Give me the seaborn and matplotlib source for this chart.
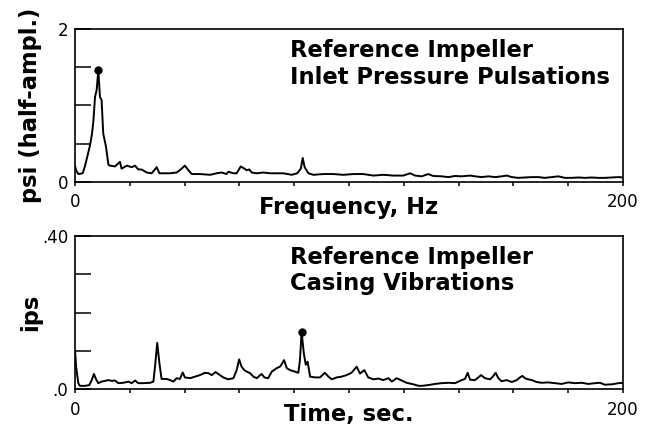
import matplotlib
matplotlib.use("Agg")
import matplotlib.pyplot as plt
import seaborn as sns
import numpy as np
import pandas as pd

# --- Inlet pressure pulsation spectrum -------------------------------------
freq_hz = [0.0, 0.4, 1.2, 2.8, 3.6, 4.5, 5.5, 6.2, 6.7, 7.3, 7.9, 8.5, 9.1, 9.7,
           10.3, 11.3, 12.2, 12.8, 14.6, 16.4, 17.0, 18.9, 20.7, 21.9, 23.1,
           24.3, 26.2, 28.0, 29.8, 30.8, 32.8, 34.7, 37.1, 38.9, 40.1, 41.4,
           42.6, 45.6, 49.3, 51.7, 53.5, 55.3, 56.0, 57.8, 59.0, 60.5, 61.4,
           62.7, 63.6, 64.5, 66.3, 68.7, 71.2, 73.6, 76.0, 79.1, 81.1, 82.4,
           83.1, 83.8, 85.2, 87.0, 90.6, 94.3, 97.9, 101.6, 105.2, 108.9,
           112.5, 116.2, 119.8, 122.3, 124.1, 126.5, 128.9, 130.7, 133.8,
           136.3, 138.7, 141.1, 144.2, 146.0, 148.4, 150.9, 153.3, 155.7,
           157.6, 159.4, 161.8, 164.2, 166.7, 169.1, 171.5, 174.0, 176.4,
           178.8, 181.3, 183.7, 186.1, 188.6, 191.0, 193.4, 195.9, 198.3, 200.0]
pressure_psi = [0.21, 0.15, 0.10, 0.11, 0.20, 0.33, 0.48, 0.63, 0.79, 1.11, 1.20,
                1.46, 1.11, 1.07, 0.63, 0.46, 0.22, 0.21, 0.20, 0.26, 0.17, 0.21,
                0.19, 0.21, 0.16, 0.16, 0.12, 0.11, 0.19, 0.11, 0.11, 0.11, 0.12,
                0.17, 0.21, 0.15, 0.10, 0.10, 0.09, 0.11, 0.12, 0.10, 0.13, 0.11,
                0.11, 0.20, 0.18, 0.15, 0.16, 0.12, 0.11, 0.12, 0.11, 0.11, 0.11,
                0.09, 0.11, 0.17, 0.31, 0.19, 0.11, 0.09, 0.10, 0.10, 0.09, 0.10,
                0.10, 0.08, 0.09, 0.08, 0.08, 0.11, 0.08, 0.07, 0.10, 0.075, 0.07,
                0.06, 0.075, 0.07, 0.08, 0.07, 0.06, 0.07, 0.06, 0.07, 0.08, 0.06,
                0.05, 0.055, 0.06, 0.06, 0.05, 0.06, 0.07, 0.05, 0.05, 0.055,
                0.05, 0.055, 0.05, 0.05, 0.055, 0.06, 0.055]

# --- Casing vibration record -----------------------------------------------
time_s = [0.0, 0.4, 1.2, 1.8, 3.6, 5.2, 6.1, 6.9, 7.7, 8.5, 9.7, 11.0, 12.2,
          13.4, 14.6, 15.8, 17.6, 19.5, 20.7, 21.9, 23.1, 24.9, 27.4, 28.6,
          29.2, 30.0, 30.8, 31.6, 33.4, 34.7, 35.9, 37.1, 38.3, 39.3, 40.1,
          42.0, 43.8, 45.6, 47.4, 48.7, 49.9, 51.3, 52.3, 54.1, 55.9, 57.8,
          59.0, 59.9, 60.8, 61.8, 62.7, 63.9, 65.1, 66.3, 68.1, 69.1, 70.5,
          71.8, 73.6, 74.8, 75.4, 76.3, 77.3, 78.5, 80.3, 81.5, 82.1, 82.7,
          83.5, 84.2, 84.9, 85.8, 87.6, 89.4, 91.2, 92.5, 93.7, 95.5, 97.3,
          99.1, 100.9, 102.8, 104.0, 105.6, 107.0, 108.9, 110.7, 112.5, 114.4,
          115.6, 117.4, 119.2, 121.0, 123.5, 125.5, 126.5, 128.9, 131.4, 133.8,
          136.3, 138.7, 141.1, 142.3, 143.3, 144.2, 146.0, 147.2, 148.2, 149.6,
          151.5, 152.7, 153.5, 154.5, 155.7, 157.5, 159.4, 161.2, 162.4, 163.3,
          164.2, 165.4, 166.7, 168.5, 170.3, 172.7, 175.2, 177.6, 180.0, 182.5,
          184.9, 187.3, 189.8, 191.6, 193.4, 195.9, 198.3, 200.0]
vibration_ips = [0.102, 0.059, 0.016, 0.009, 0.009, 0.011, 0.024, 0.040, 0.026,
                 0.016, 0.020, 0.022, 0.024, 0.022, 0.023, 0.016, 0.017, 0.020,
                 0.016, 0.023, 0.016, 0.016, 0.017, 0.020, 0.059, 0.121, 0.068,
                 0.027, 0.027, 0.024, 0.020, 0.029, 0.027, 0.044, 0.031, 0.029,
                 0.033, 0.037, 0.043, 0.042, 0.037, 0.045, 0.040, 0.031, 0.026,
                 0.029, 0.050, 0.078, 0.059, 0.050, 0.046, 0.042, 0.033, 0.029,
                 0.040, 0.031, 0.029, 0.046, 0.055, 0.059, 0.065, 0.076, 0.055,
                 0.050, 0.046, 0.043, 0.076, 0.150, 0.094, 0.064, 0.072, 0.033,
                 0.031, 0.031, 0.043, 0.033, 0.026, 0.031, 0.033, 0.037, 0.043,
                 0.059, 0.041, 0.050, 0.031, 0.026, 0.028, 0.024, 0.029, 0.020,
                 0.029, 0.023, 0.017, 0.013, 0.009, 0.009, 0.011, 0.014, 0.016,
                 0.017, 0.016, 0.024, 0.027, 0.043, 0.025, 0.024, 0.031, 0.037,
                 0.029, 0.026, 0.035, 0.043, 0.029, 0.021, 0.024, 0.019, 0.024,
                 0.031, 0.035, 0.029, 0.026, 0.024, 0.019, 0.017, 0.018, 0.016,
                 0.014, 0.018, 0.016, 0.017, 0.014, 0.016, 0.017, 0.012, 0.013,
                 0.016, 0.017]

# --- Axis annotations --------------------------------------------------------
x_ticks = list(range(0, 201, 20))
x_ticklabels = ["0"] + [""] * 9 + ["200"]
psi_ticks = [0, 0.5, 1.0, 1.5, 2.0]
psi_ticklabels = ["0", "", "", "", "2"]
ips_ticks = [0, 0.1, 0.2, 0.3, 0.4]
ips_ticklabels = [".0", "", "", "", ".40"]

sns.set_theme(style="white")
plt.rcParams["font.family"] = ["DejaVu Sans"]
plt.rcParams["axes.edgecolor"] = "black"
plt.rcParams["axes.linewidth"] = 1.2

fig = plt.figure(figsize=(6.45, 4.29), dpi=100)
fig.patch.set_facecolor("white")
ax_top = fig.add_axes([0.1163, 0.5765, 0.8496, 0.3559])
ax_bot = fig.add_axes([0.1163, 0.0925, 0.8496, 0.3580])

pressure = pd.DataFrame({"freq": freq_hz, "psi": pressure_psi})
vibration = pd.DataFrame({"time": time_s, "ips": vibration_ips})


def draw_trace(ax, df, xcol, ycol):
    sns.lineplot(data=df, x=xcol, y=ycol, ax=ax, color="black", linewidth=1.4,
                 estimator=None, sort=False)
    peak = df.loc[[df[ycol].idxmax()]]
    sns.scatterplot(data=peak, x=xcol, y=ycol, ax=ax, color="black", s=36,
                    edgecolor="black", linewidth=0, zorder=5)


draw_trace(ax_top, pressure, "freq", "psi")
draw_trace(ax_bot, vibration, "time", "ips")

label_font = dict(fontsize=16.3, fontweight="bold", color="black")

panels = [
    (ax_top, psi_ticks, psi_ticklabels, (0, 2), "psi (half-ampl.)", "Frequency, Hz",
     "Reference Impeller\nInlet Pressure Pulsations", -0.094),
    (ax_bot, ips_ticks, ips_ticklabels, (0, 0.4), "ips", "Time, sec.",
     "Reference Impeller\nCasing Vibrations", -0.088),
]

for ax, yt, ytl, ylim, ylab, xlab, note, xlab_y in panels:
    ax.set_facecolor("white")
    ax.set_xlim(0, 200)
    ax.set_ylim(*ylim)
    for side in ("top", "right", "bottom", "left"):
        ax.spines[side].set_visible(True)
        ax.spines[side].set_color("black")
        ax.spines[side].set_linewidth(1.2)
    ax.set_xticks(x_ticks)
    ax.set_xticklabels(x_ticklabels)
    ax.set_yticks(yt)
    ax.set_yticklabels(ytl)
    ax.tick_params(axis="x", direction="out", length=3, width=1.1, pad=5.5,
                   labelsize=12, colors="black", bottom=True)
    ax.tick_params(axis="y", direction="in", length=11.5, width=1.1, pad=5,
                   labelsize=12, colors="black", left=True)
    ax.set_xlabel(xlab, **label_font)
    ax.set_ylabel(ylab, **label_font)
    ax.xaxis.set_label_coords(0.5, xlab_y)
    ax.yaxis.set_label_coords(-0.060, 0.5)
    ax.text(0.392, 0.934, note, transform=ax.transAxes, ha="left", va="top",
            fontsize=16.3, fontweight="bold", color="black", linespacing=1.2)
    ax.grid(False)

fig.savefig("out.png", dpi=100, facecolor="white")
